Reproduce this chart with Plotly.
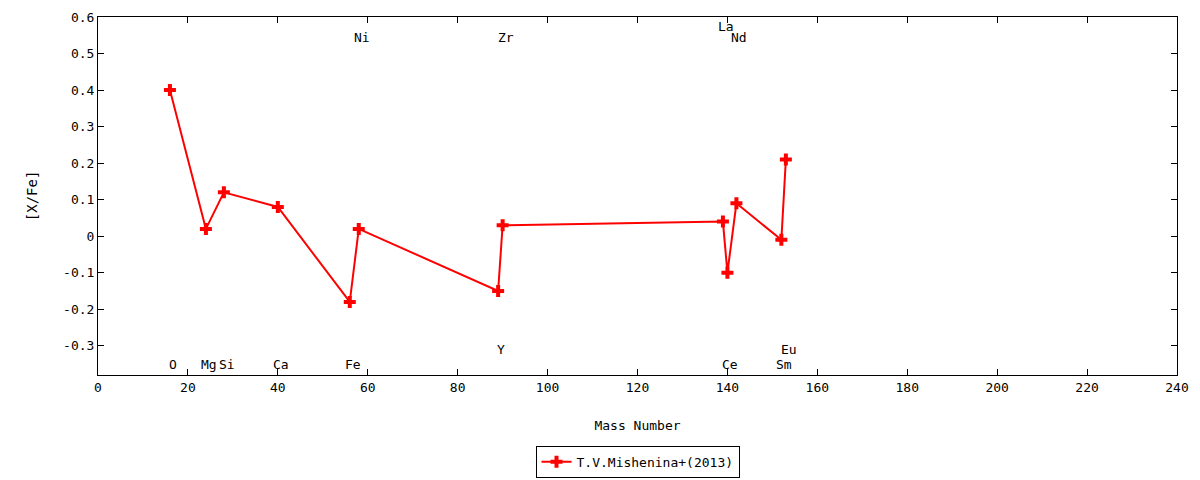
import plotly.graph_objects as go

elements = ["O", "Mg", "Si", "Ca", "Fe", "Ni", "Y", "Zr", "La", "Ce", "Nd", "Sm", "Eu"]
mass_numbers = [16, 24, 28, 40, 56, 58, 89, 90, 139, 140, 142, 152, 153]
x_fe = [0.40, 0.02, 0.12, 0.08, -0.18, 0.02, -0.15, 0.03, 0.04, -0.10, 0.09, -0.01, 0.21]
label_y = [-0.35, -0.35, -0.35, -0.35, -0.35, 0.545, -0.31, 0.545, 0.573, -0.35, 0.545, -0.35, -0.31]
x_ticks = list(range(0, 241, 20))
y_ticks = [0.6, 0.5, 0.4, 0.3, 0.2, 0.1, 0, -0.1, -0.2, -0.3]
y_tick_text = ["0.6", "0.5", "0.4", "0.3", "0.2", "0.1", "0", "-0.1", "-0.2", "-0.3"]

FONT = "DejaVu Sans Mono"

fig = go.Figure()
fig.add_trace(go.Scatter(
    x=mass_numbers, y=x_fe, mode="lines+markers",
    name="T.V.Mishenina+(2013)",
    line=dict(color="#ff0000", width=2),
    marker=dict(symbol="cross", size=10, color="#ff0000", line=dict(width=0)),
))

for el, mx, ly in zip(elements, mass_numbers, label_y):
    fig.add_annotation(x=mx, y=ly, text=el, showarrow=False, xshift=3,
                       font=dict(family=FONT, size=13, color="black"),
                       xanchor="center", yanchor="middle")

# y-axis title placed as a rotated annotation
fig.add_annotation(xref="paper", yref="paper", x=-0.061, y=0.5, text="[X/Fe]",
                   textangle=-90, showarrow=False, xanchor="center", yanchor="middle",
                   font=dict(family=FONT, size=14, color="black"))

axis_common = dict(
    showgrid=False, zeroline=False, showline=True, linecolor="black", linewidth=1,
    mirror="allticks", ticks="inside", ticklen=6, tickcolor="black",
    tickfont=dict(family=FONT, size=13, color="black"),
)

fig.update_xaxes(range=[0, 240], tickvals=x_ticks, automargin=True,
                 title=dict(text="Mass Number", font=dict(family=FONT, size=13, color="black"), standoff=27),
                 **axis_common)
fig.update_yaxes(range=[-0.38, 0.6], tickvals=y_ticks, ticktext=y_tick_text, automargin=True,
                 **axis_common)

fig.update_layout(
    width=1192, height=472,
    margin=dict(l=90, r=23, t=9, b=105, autoexpand=False),
    plot_bgcolor="white", paper_bgcolor="white",
    font=dict(family=FONT, size=13, color="black"),
    showlegend=True,
    legend=dict(orientation="h", x=0.5, xanchor="center", y=-0.198, yanchor="top",
                bordercolor="black", borderwidth=1, bgcolor="white",
                font=dict(family=FONT, size=13, color="black")),
)

fig.write_html("out.html")
